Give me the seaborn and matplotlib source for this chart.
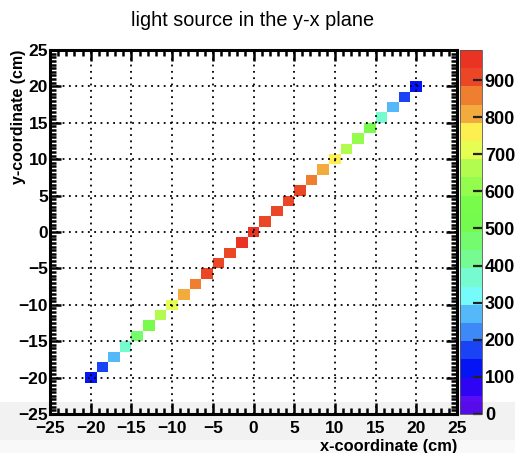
import colorsys
import numpy as np
import matplotlib
matplotlib.use("Agg")
import matplotlib.pyplot as plt
from matplotlib.colors import ListedColormap
from matplotlib.ticker import MultipleLocator
from matplotlib.patches import Rectangle
import seaborn as sns

# bin centres of the filled cells (cm)
x_cm = [-20.0, -18.6, -17.1, -15.7, -14.3, -12.9, -11.4, -10.0, -8.6, -7.1,
        -5.7, -4.3, -2.9, -1.4, 0.0, 1.4, 2.9, 4.3, 5.7, 7.1,
        8.6, 10.0, 11.4, 12.9, 14.3, 15.7, 17.1, 18.6, 20.0]
y_cm = [-20.0, -18.6, -17.1, -15.7, -14.3, -12.9, -11.4, -10.0, -8.6, -7.1,
        -5.7, -4.3, -2.9, -1.4, 0.0, 1.4, 2.9, 4.3, 5.7, 7.1,
        8.6, 10.0, 11.4, 12.9, 14.3, 15.7, 17.1, 18.6, 20.0]
# cell contents (estimated from the colour band of each cell)
counts = [115, 170, 270, 365, 465, 570, 665, 720, 815, 860,
          905, 920, 930, 935, 935, 930, 925, 915, 905, 865,
          810, 765, 665, 600, 555, 370, 270, 175, 110]

z_max = 981
n_cont = 20
cbar_ticks = [0, 100, 200, 300, 400, 500, 600, 700, 800, 900]
axis_ticks = [-25, -20, -15, -10, -5, 0, 5, 10, 15, 20, 25]


def root_pretty(icol):
    # old ROOT "pretty" palette (violet -> red), 50 colours, 20 contours
    idx = int((icol + 0.99) * 50 / n_cont)
    hue = 280 - (idx + 1) * 5.6 if idx < 49 else 0.0
    return np.array(colorsys.hls_to_rgb(hue / 360.0, 0.5, 1.0))


def p3_look(rgb):
    # the screenshot was taken on a wide-gamut screen, colours look washed out
    lin = np.where(rgb <= 0.04045, rgb / 12.92, ((rgb + 0.055) / 1.055) ** 2.4)
    m = np.array([[0.8225, 0.1774, 0.0], [0.0332, 0.9669, 0.0], [0.0171, 0.0724, 0.9108]])
    p = np.clip(lin @ m.T, 0, 1)
    return np.where(p <= 0.0031308, 12.92 * p, 1.055 * p ** (1 / 2.4) - 0.055)


cmap = ListedColormap([p3_look(root_pretty(i)) for i in range(n_cont)])

plt.rcParams['font.family'] = ['Liberation Sans', 'DejaVu Sans']

W, H = 515, 453
fig = plt.figure(figsize=(W / 100, H / 100), dpi=100)
ax = fig.add_axes([50 / W, 1 - 414 / H, 407 / W, 364 / H])
cax = fig.add_axes([460 / W, 1 - 414 / H, 22 / W, 364 / H])

sns.histplot(x=x_cm, y=y_cm, weights=counts, bins=35, binrange=(-25, 25),
             cmap=cmap, cbar=True, cbar_ax=cax, ax=ax)
# fixed z range, 20 equal contours like the ROOT COLZ option
ax.collections[0].set_clim(0, z_max)

ax.set_xlim(-25, 25)
ax.set_ylim(-25, 25)
ax.set_xticks(axis_ticks)
ax.set_yticks(axis_ticks)
ax.xaxis.set_minor_locator(MultipleLocator(1))
ax.yaxis.set_minor_locator(MultipleLocator(0.5))
ax.set_axisbelow(False)
ax.grid(True, which='major', color='black', linestyle=(0, (1, 2.5)), linewidth=1.3)
ax.tick_params(which='both', direction='in', top=True, right=True, color='black', width=1.8)
ax.tick_params(which='major', length=8, labelsize=12.5)
ax.tick_params(which='minor', length=4)
ax.tick_params(axis='x', pad=5)
ax.tick_params(axis='y', pad=1.5)
for lab in ax.get_xticklabels() + ax.get_yticklabels():
    lab.set_fontweight('bold')
for s in ax.spines.values():
    s.set_linewidth(2.2)
    s.set_color('black')
ax.set_xlabel('')
ax.set_ylabel('')

cax.set_yticks(cbar_ticks)
cax.tick_params(direction='in', length=6.5, width=1.6, color='#222222', pad=2, labelsize=13)
for lab in cax.get_yticklabels():
    lab.set_fontweight('bold')
cax.minorticks_off()
for s in cax.spines.values():
    s.set_linewidth(0.6)
    s.set_color('#555555')

fig.text(457 / W, 1 - 446 / H, 'x-coordinate (cm)', ha='right', va='center',
         fontsize=11.8, fontweight='bold')
fig.text(19 / W, 1 - 50 / H, 'y-coordinate (cm)', ha='center', va='top',
         rotation=90, fontsize=11.5, fontweight='bold')
fig.text(253 / W, 1 - 20 / H, 'light source in the y-x plane', ha='center', va='center',
         fontsize=14.3)

# light grey band at the bottom of the screenshot
fig.add_artist(Rectangle((0, 1 - 440 / H), 1, 38 / H, transform=fig.transFigure,
                         color='black', alpha=0.05, zorder=10, linewidth=0))
fig.add_artist(Rectangle((0, 0), 1, 13 / H, transform=fig.transFigure,
                         color='black', alpha=0.025, zorder=10, linewidth=0))

fig.savefig('out.png', dpi=100)
